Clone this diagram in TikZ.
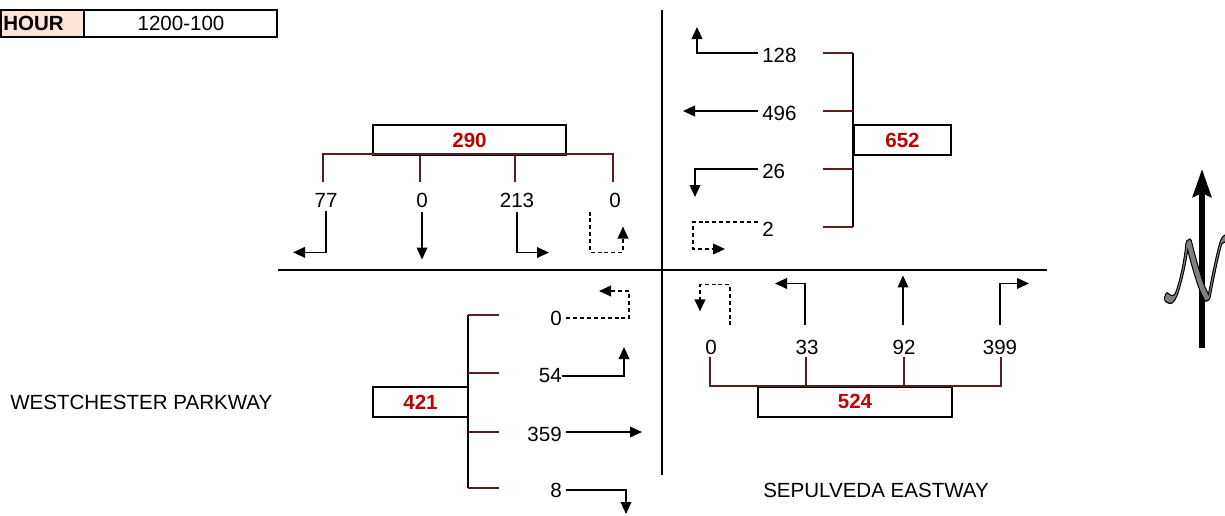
\documentclass[tikz,border=0pt]{standalone}
\usepackage{fontspec}
\setmainfont{Liberation Sans}
\usepackage{graphicx}
\usetikzlibrary{arrows.meta}
\definecolor{TCBrown}{HTML}{5A1E1E}
\definecolor{TCRed}{HTML}{C00000}
\definecolor{TCPeach}{HTML}{FCE4D6}
\newcommand\Nsym{\scalebox{5.2}[6.4]{\special{pdf:code 2 Tr 0 G 0.14 w}$\mathcal{N}$\special{pdf:code 0 Tr}}}

\begin{document}
\begin{tikzpicture}[x=0.75pt,y=-0.75pt,
  vol/.style={inner sep=3pt,font=\fontsize{15.4}{18}\selectfont},
  total/.style={draw,line width=1.5pt,minimum height=22.5pt,inner sep=0pt,
    font=\fontsize{15.4}{18}\selectfont\bfseries,text=TCRed},
  mv/.style={line width=1.1pt,-{Triangle[length=9pt,width=8pt]}},
  uturn/.style={mv,dash pattern=on 3pt off 2.2pt},
  br/.style={TCBrown,line width=1.1pt},
  nmark/.style={inner sep=0pt}]
\path[use as bounding box] (0,0) rectangle (1225,515);
% header
\draw[line width=1.5pt,fill=TCPeach] (1,10) rectangle (84,37);
\draw[line width=1.5pt] (84,10) rectangle (277,37);
\node[vol,anchor=west,font=\fontsize{15.4}{18}\selectfont\bfseries] (hLab) at (-1,23.5) {HOUR};
\node[vol] (hVal) at (181,23.5) {1200-100};
% streets
\draw[line width=1.5pt] (662,10) -- (662,475);
\draw[line width=1.5pt] (278,270) -- (1047,270);
\node[vol,anchor=west] (wName) at (6,402) {WESTCHESTER PARKWAY};
\node[vol,anchor=west] (sName) at (759,490) {SEPULVEDA EASTWAY};
% north approach
\node[total,minimum width=144.75pt] (tN) at (469.5,140) {290};
\draw[br] (323,182) -- (323,154) -- (613,154) -- (613,182);
\foreach \x in {420,515} \draw[br] (\x,154) -- (\x,182);
\node[vol] (n77) at (326,200) {77};
\node[vol] (nN0) at (422,200) {0};
\node[vol] (n213) at (517,200) {213};
\node[vol] (nNu) at (615,200) {0};
\draw[mv] (n77.south) |- ++(-33,41);
\draw[mv] (nN0.south) -- ++(0,48);
\draw[mv] (n213.south) |- ++(32,41);
\draw[uturn] ([xshift=-18.75pt]nNu.south) -- ++(0,41) -- ++(33,0) -- ++(0,-26);
% east approach
\node[total,minimum width=72.75pt] (tE) at (902.5,140) {652};
\draw[line width=1.1pt] (853,53) -- (853,227);
\foreach \y in {53,111,169,227} \draw[br] (823,\y) -- (853,\y);
\node[vol,anchor=west] (e128) at (758,55) {128};
\node[vol,anchor=west] (e496) at (758,113) {496};
\node[vol,anchor=west] (e26) at (758,171) {26};
\node[vol,anchor=west] (e2) at (758,229) {2};
\draw[mv] ([yshift=1.5pt]e128.west) -| ++(-61,-26);
\draw[mv] ([yshift=1.5pt]e496.west) -- ++(-75,0);
\draw[mv] ([yshift=1.5pt]e26.west) -| ++(-63,28);
\draw[uturn] ([yshift=5.25pt]e2.west) -- ++(-65,0) -- ++(0,27) -- ++(32,0);
% south approach
\node[total,minimum width=145.5pt] (tS) at (855,401.5) {524};
\draw[br] (710,357) -- (710,386) -- (1001,386) -- (1001,357);
\foreach \x in {806,904} \draw[br] (\x,386) -- (\x,357);
\node[vol] (s0) at (711,347) {0};
\node[vol] (s33) at (807,347) {33};
\node[vol] (s92) at (904,347) {92};
\node[vol] (s399) at (1000,347) {399};
\draw[uturn] ([xshift=14.25pt,yshift=7.5pt]s0.north) -- ++(0,-41) -- ++(-30,0) -- ++(0,27);
\draw[mv] ([xshift=-1.5pt,yshift=7.5pt]s33.north) |- ++(-30,-42);
\draw[mv] ([xshift=-0.75pt,yshift=7.5pt]s92.north) -- ++(0,-50);
\draw[mv] ([yshift=7.5pt]s399.north) |- ++(29,-42);
% west approach
\node[total,minimum width=71.25pt] (tW) at (420.5,402) {421};
\draw[line width=1.1pt] (468,315) -- (468,488);
\foreach \y in {315,373,432,488} \draw[br] (468,\y) -- (499,\y);
\node[vol,anchor=east] (w0) at (566,318) {0};
\node[vol,anchor=east] (w54) at (566,376) {54};
\node[vol,anchor=east] (w359) at (566,434) {359};
\node[vol,anchor=east] (w8) at (566,490) {8};
\draw[uturn] (w0.east) -- ++(63,0) -- ++(0,-27) -- ++(-30,0);
\draw[mv] ([xshift=-3pt]w54.east) -| ++(62,-29);
\draw[mv] ([yshift=1.5pt]w359.east) -- ++(76,0);
\draw[mv] (w8.east) -| ++(60,24);
% north arrow
\draw[line width=4pt,-{Stealth[length=21pt,width=14pt,inset=3pt]}] (1202,348) -- (1202,169);
\node[nmark,text=gray] (nN) at (1200,270) {\Nsym};
\end{tikzpicture}
\end{document}
